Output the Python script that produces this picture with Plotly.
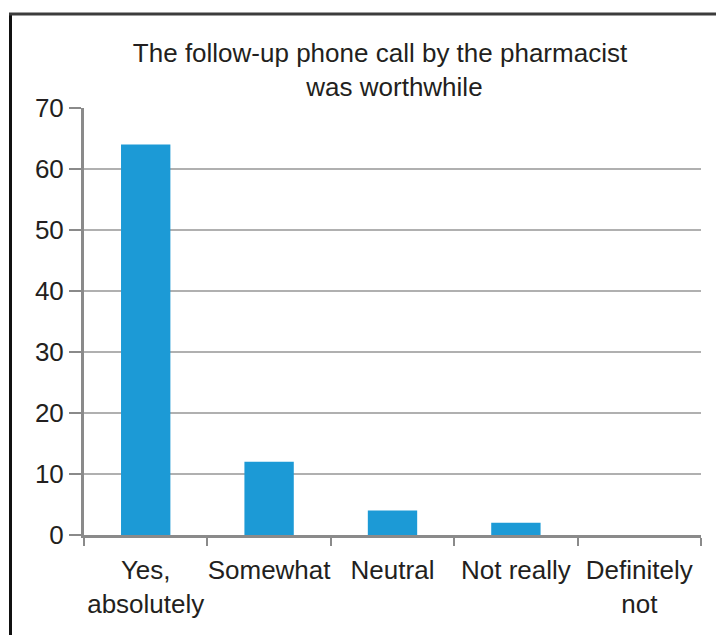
import plotly.graph_objects as go

# Survey responses
categories = ["Yes,<br>absolutely", "Somewhat", "Neutral", "Not really", "Definitely<br>not"]
responses = [64, 12, 4, 2, 0]
y_ticks = [0, 10, 20, 30, 40, 50, 60, 70]

W, H = 716, 635
L, R, T, B = 84, 15, 108, 100
PW, PH = W - L - R, H - T - B

def px_x(px):
    return (px - L) / PW

def px_y(py):
    return (H - B - py) / PH

FONT = "Liberation Sans, Arial, sans-serif"
TXT = "#231f20"
AXIS = "#8a8a8a"
GRID = "#b0b0b0"

fig = go.Figure(
    go.Bar(
        x=categories,
        y=responses,
        width=0.4,
        marker=dict(color="#1c9ad6", line=dict(width=0)),
    )
)

fig.update_layout(
    width=W,
    height=H,
    margin=dict(l=L, r=R, t=T, b=B, pad=0, autoexpand=False),
    paper_bgcolor="white",
    plot_bgcolor="white",
    showlegend=False,
    font=dict(family=FONT, color=TXT, size=26),
    title=dict(
        text="The follow-up phone call by the pharmacist<br>&nbsp;&nbsp;&nbsp;&nbsp;was worthwhile",
        x=px_x(380),
        xref="paper",
        xanchor="center",
        y=1 - 62 / H,
        yref="container",
        yanchor="top",
        font=dict(family=FONT, size=26, color=TXT),
        automargin=False,
    ),
    xaxis=dict(
        type="category",
        automargin=False,
        tickangle=0,
        showline=True,
        linecolor=AXIS,
        linewidth=3,
        ticks="outside",
        tickson="boundaries",
        ticklen=8,
        tickwidth=2,
        tickcolor=AXIS,
        ticklabelstandoff=10,
        showgrid=False,
        zeroline=False,
        tickfont=dict(family=FONT, size=26, color=TXT),
    ),
    yaxis=dict(
        range=[0, 70],
        automargin=False,
        tickvals=y_ticks,
        showline=True,
        linecolor=AXIS,
        linewidth=3,
        ticks="outside",
        ticklen=12,
        tickwidth=2,
        tickcolor=AXIS,
        showgrid=True,
        gridcolor=GRID,
        gridwidth=2,
        zeroline=False,
        tickfont=dict(family=FONT, size=26, color=TXT),
    ),
    shapes=[
        # outer frame: left and top edges
        dict(type="line", xref="paper", yref="paper",
             x0=px_x(10.5), x1=px_x(10.5), y0=px_y(13), y1=px_y(640),
             line=dict(color="#111111", width=3)),
        dict(type="line", xref="paper", yref="paper",
             x0=px_x(9), x1=px_x(720), y0=px_y(14), y1=px_y(14),
             line=dict(color="#3c3c3c", width=3)),
    ],
)

fig.write_html("out.html")
